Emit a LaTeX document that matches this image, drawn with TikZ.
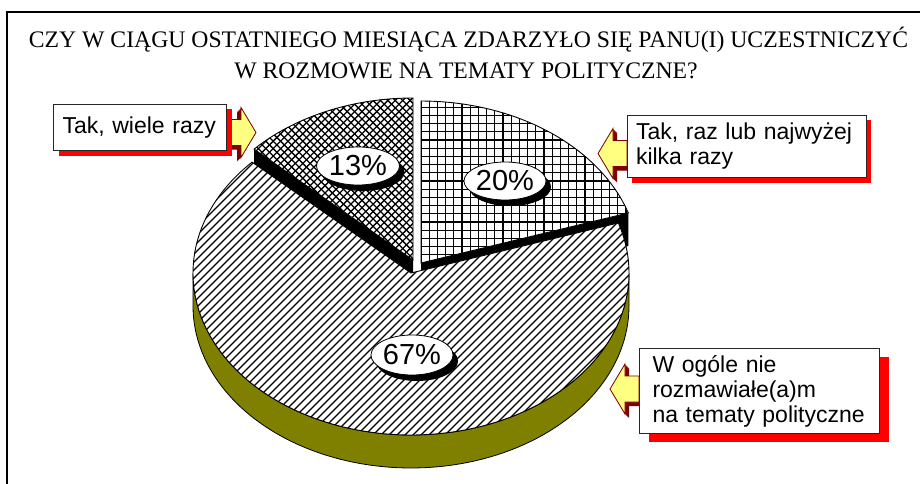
\documentclass[tikz,border=0pt]{standalone}
\usepackage{fontspec}
\setmainfont{Liberation Serif}
\newfontfamily\arialf{Liberation Sans}
\usetikzlibrary{shapes.geometric,shadows,backgrounds}
\definecolor{olivewall}{HTML}{808000}
\definecolor{shadowred}{HTML}{FF0000}
\definecolor{arrowyellow}{HTML}{FFFF80}
\definecolor{arrowdark}{HTML}{800000}
\tikzset{
  lbl/.style={draw=black!85, fill=white, line width=1pt,
    font=\arialf\fontsize{23}{25}\selectfont, align=left,
    anchor=north west, inner ysep=0pt},
  pct/.style={ellipse, draw=black, fill=white, line width=0.8pt, inner sep=0pt,
    font=\arialf\fontsize{29}{29}\selectfont,
    drop shadow={shadow xshift=5pt, shadow yshift=-6pt, fill=black, opacity=1}},
  titlefont/.style={font=\fontsize{23.7}{28}\selectfont, anchor=base, inner sep=0pt},
  hatchline/.style={line width=1.3pt, black},
  sliceedge/.style={draw=black, line width=0.9pt}
}
\newcommand{\blockarr}[2]{%
  \begin{scope}[shift={(#1)}, xscale=#2]
    \foreach \s in {0.5,1,...,4} {
      \begin{scope}[shift={(-\s,\s)}]
        \fill[arrowdark] (0,-13) -- (14,-13) -- (14,-25) -- (29,0) -- (14,25) -- (14,13) -- (0,13) -- cycle;
      \end{scope}
    }
    \filldraw[fill=arrowyellow, draw=arrowdark, line width=0.8pt]
      (0,-13) -- (14,-13) -- (14,-25) -- (29,0) -- (14,25) -- (14,13) -- (0,13) -- cycle;
  \end{scope}}
\begin{document}
\begin{tikzpicture}[x=1pt, y=-1pt, line join=miter]
\useasboundingbox (0,0) rectangle (920,484);
\clip (0,0) rectangle (920,484);
% frame
\draw[line width=2pt] (7,500) -- (7,12) -- (930,12);
% title
\node[titlefont] (t1) at (468.5,48) {CZY W CIĄGU OSTATNIEGO MIESIĄCA ZDARZYŁO SIĘ PANU(I) UCZESTNICZYĆ};
\node[titlefont] (t2) at (466,79) {W ROZMOWIE NA TEMATY POLITYCZNE?};

% ---- 13% slice (exploded)
\fill[black] (413,260) -- ({413+218*cos(136.8)},{260-162*sin(136.8)}) -- ++(0,33) -- (413,293) -- cycle;
\fill[white] (413,260) -- plot[domain=90:136.8,samples=40] ({413+218*cos(\x)},{260-162*sin(\x)}) -- cycle;
\begin{scope}
  \clip (413,260) -- plot[domain=90:136.8,samples=40] ({413+218*cos(\x)},{260-162*sin(\x)}) -- cycle;
  \foreach \k in {35,...,130} {
    \draw[hatchline] ({\k*7.4-280},280) -- ({\k*7.4-80},80);
    \draw[hatchline] ({\k*7.4-380},80) -- ({\k*7.4-180},280);
  }
\end{scope}
\draw[sliceedge] (413,260) -- plot[domain=90:136.8,samples=40] ({413+218*cos(\x)},{260-162*sin(\x)}) -- cycle;

% ---- 20% slice (exploded)
\fill[black] (421,263) -- ({421+218*cos(18)},{263-162*sin(18)}) -- ++(0,33) -- (421,296) -- cycle;
\fill[white] (421,263) -- plot[domain=18:90,samples=40] ({421+218*cos(\x)},{263-162*sin(\x)}) -- cycle;
\begin{scope}
  \clip (421,263) -- plot[domain=18:90,samples=40] ({421+218*cos(\x)},{263-162*sin(\x)}) -- cycle;
  \foreach \k in {0,...,27} {
    \draw[hatchline] ({421+\k*8.2},90) -- ({421+\k*8.2},270);
  }
  \foreach \k in {0,...,22} {
    \draw[hatchline] (415,{263-\k*8.2}) -- (640,{263-\k*8.2});
  }
\end{scope}
\draw[sliceedge] (421,263) -- plot[domain=18:90,samples=40] ({421+218*cos(\x)},{263-162*sin(\x)}) -- cycle;

% ---- 67% slice
\draw[fill=olivewall, line width=0.8pt]
  plot[domain=180:360,samples=90] ({411+218*cos(\x)},{273-162*sin(\x)})
  -- plot[domain=360:180,samples=90] ({411+218*cos(\x)},{306-162*sin(\x)}) -- cycle;
\fill[white] (411,273) -- plot[domain=136.8:378,samples=150] ({411+218*cos(\x)},{273-162*sin(\x)}) -- cycle;
\begin{scope}
  \clip (411,273) -- plot[domain=136.8:378,samples=150] ({411+218*cos(\x)},{273-162*sin(\x)}) -- cycle;
  \foreach \k in {34,...,136} {
    \draw[hatchline] ({\k*8-450},450) -- ({\k*8-100},100);
  }
\end{scope}
\draw[sliceedge] (411,273) -- plot[domain=136.8:378,samples=150] ({411+218*cos(\x)},{273-162*sin(\x)}) -- cycle;

% percentage labels
\node[pct, minimum width=83pt, minimum height=38pt] (p13) at (358,166) {13\%};
\node[pct, minimum width=76pt, minimum height=38pt] (p20) at (505,181) {20\%};
\node[pct, minimum width=79pt, minimum height=40pt] (p67) at (412,355) {67\%};

% label boxes
\node[lbl, inner xsep=9pt, text width=155pt, minimum height=46pt,
      drop shadow={shadow xshift=5pt, shadow yshift=-5pt, fill=shadowred, opacity=1}]
  (b1) at (53,104) {Tak, wiele razy};
\node[lbl, inner xsep=8.5pt, text width=222pt, minimum height=62pt,
      drop shadow={shadow xshift=4pt, shadow yshift=-5pt, fill=shadowred, opacity=1}]
  (b2) at (627,115) {Tak, raz lub najwyżej\\kilka razy};
\node[lbl, inner xsep=13pt, text width=214pt, minimum height=85pt,
      drop shadow={shadow xshift=9pt, shadow yshift=-8pt, fill=shadowred, opacity=1}]
  (b3) at (639,348) {W ogóle nie\\rozmawiałe(a)m\\na tematy polityczne};

% pointer arrows (behind the boxes and their shadows)
\begin{scope}[on background layer]
  \fill[white] (0,0) rectangle (920,484);
  \coordinate (a1) at ([yshift=-5pt]b1.east);
  \coordinate (a2) at ([yshift=-7pt]b2.west);
  \coordinate (a3) at ([yshift=2pt]b3.west);
  \blockarr{a1}{1}
  \blockarr{a2}{-1}
  \blockarr{a3}{-1}
\end{scope}
\end{tikzpicture}
\end{document}
